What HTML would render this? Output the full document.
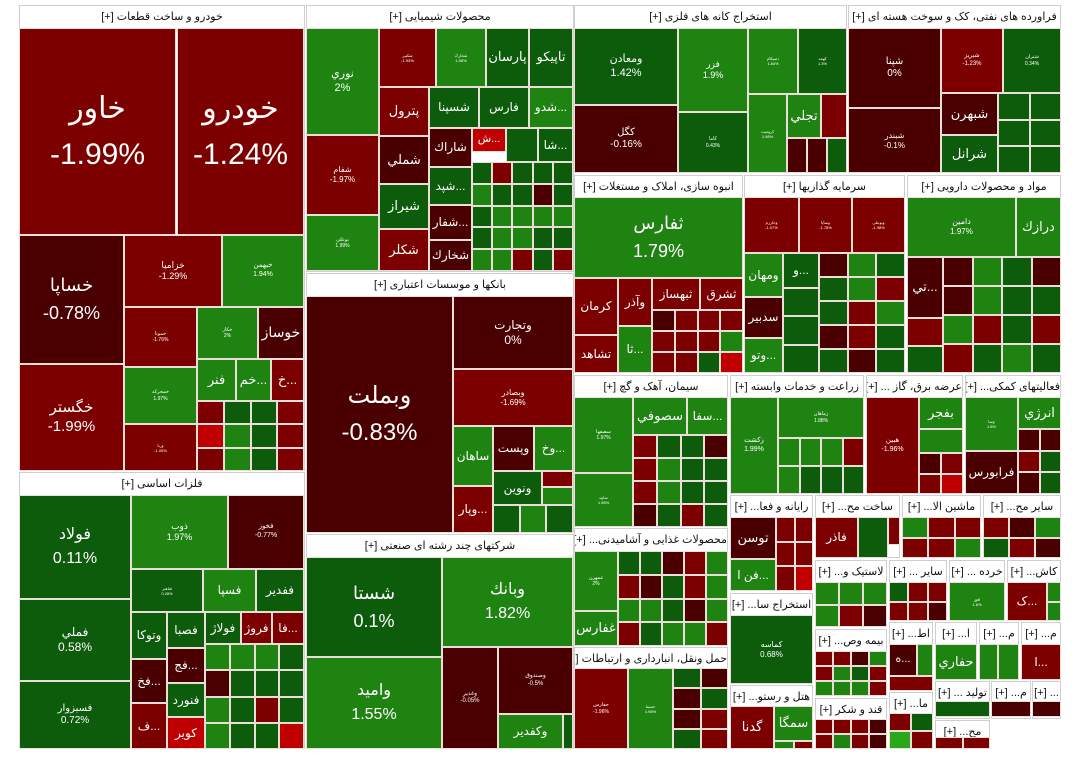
<!DOCTYPE html>
<html><head><meta charset="utf-8">
<style>
html,body{margin:0;padding:0;background:#fff;width:1080px;height:769px;overflow:hidden;}
#map{position:relative;width:1080px;height:769px;font-family:"Liberation Sans","DejaVu Sans",sans-serif;}
.sec{position:absolute;background:#fff;border:1px solid #cfcfcf;box-sizing:border-box;}
.hdr{position:absolute;left:0;right:0;top:0;height:22px;line-height:22px;text-align:center;font-size:11px;color:#111;white-space:nowrap;overflow:hidden;direction:rtl;}
.t{position:absolute;box-sizing:border-box;border:1px solid #eadfd8;color:#fff;display:flex;flex-direction:column;align-items:center;justify-content:center;text-align:center;overflow:hidden;line-height:1.25;white-space:nowrap;}
</style></head><body>
<div id="map"></div>
<script>
const palette={d:"#4a0000",r:"#7d0000",R:"#c00000",n:"#0c5c0c",g:"#1f8312",G:"#2aa81a"};
const sectors=[
[19,5,305,471,"خودرو و ساخت قطعات [+]"],
[306,5,574,272,"محصولات شیمیایی [+]"],
[306,273,574,533,"بانکها و موسسات اعتباری [+]"],
[306,534,574,749,"شرکتهای چند رشته ای صنعتی [+]"],
[19,472,305,749,"فلزات اساسی [+]"],
[574,5,847,173,"استخراج کانه های فلزی [+]"],
[848,5,1061,173,"فراورده های نفتی، کک و سوخت هسته ای [+]"],
[574,175,743,373,"انبوه سازی، املاک و مستغلات [+]"],
[744,175,905,373,"سرمایه گذاریها [+]"],
[907,175,1061,373,"مواد و محصولات دارویی [+]"],
[574,375,728,527,"سیمان، آهک و گچ [+]"],
[730,375,864,494,"زراعت و خدمات وابسته [+]"],
[866,375,963,494,"عرضه برق، گاز ... [+]"],
[965,375,1061,494,"فعالیتهای کمکی... [+]"],
[574,528,728,646,"محصولات غذایی و آشامیدنی... [+]"],
[574,647,728,749,"حمل ونقل، انبارداری و ارتباطات [+]"],
[730,495,813,591,"رایانه و فعا... [+]"],
[730,593,813,684,"استخراج سا... [+]"],
[730,685,813,749,"هتل و رستو... [+]"],
[815,495,900,558,"ساخت مح... [+]"],
[902,495,981,558,"ماشین الا... [+]"],
[983,495,1061,558,"سایر مح... [+]"],
[815,560,887,627,"لاستیک و... [+]"],
[889,560,947,621,"سایر ... [+]"],
[949,560,1005,621,"خرده ... [+]"],
[1007,560,1061,621,"کاش... [+]"],
[815,629,887,696,"بیمه وص... [+]"],
[815,698,887,749,"قند و شکر [+]"],
[889,622,933,691,"اط... [+]"],
[935,622,977,680,"ا... [+]"],
[979,622,1019,680,"م... [+]"],
[1021,622,1061,680,"م... [+]"],
[889,692,933,749,"ما... [+]"],
[935,681,990,719,"تولید ... [+]"],
[935,720,990,749,"مح... [+]"],
[991,681,1031,719,"م... [+]"],
[1032,681,1061,719,"... [+]"]
];
const tiles=[
[19,28,176,235,"خاور",-1.99,30],[177,28,304,235,"خودرو",-1.24,30],
[19,235,124,364,"خساپا",-0.78,18],[19,364,124,471,"خگستر",-1.99,15],
[124,235,222,307,"خزامیا",-1.29,9],[222,235,304,307,"خبهمن",1.94,7],
[124,307,197,367,"خموتا",-1.76,5],[197,307,258,359,"خکار",2,5],[258,307,304,359,"خوساز","d",14],
[197,359,236,401,"فنر","g",13],[236,359,271,401,"...خم","g",13],[271,359,304,401,"...خ","r",13],
[124,367,197,424,"خمحرکه",1.97,5],[124,424,197,471,"ورنا",-1.05,4],
[306,28,379,135,"نوري",2,11],[306,135,379,215,"شفام",-1.97,8],[306,215,379,271,"بوعلي",1.99,5],
[379,28,436,87,"شکبیر",-1.93,4],[436,28,486,87,"شخارک",1.58,4],[486,28,529,87,"پارسان","n",13],[529,28,573,87,"تاپیکو","n",13],
[379,87,429,136,"پترول","r",13],[379,136,429,184,"شملي","d",13],[379,184,429,229,"شیراز","n",13],[379,229,429,271,"شکلر","r",13],
[429,87,479,128,"شسپنا","n",12],[479,87,529,128,"فارس","n",12],[529,87,573,128,"...شدو","g",12],
[429,128,472,167,"شاراك","d",12],[472,128,506,152,"...ش","R",11],[506,128,538,162,"","n",10],[538,128,573,162,"...شا","n",12],
[429,167,472,205,"...شپد","n",12],[429,205,472,240,"...شفار","d",12],[429,240,472,271,"شخارك","d",12],
[306,296,453,533,"وبملت",-0.83,24],[453,296,573,369,"وتجارت",0,12],[453,369,573,426,"وبصادر",-1.69,8],
[453,426,493,486,"ساهان","g",12],[493,426,534,471,"وپست","d",12],[534,426,573,471,"...وخ","g",12],
[453,486,493,533,"...وپار","r",12],[493,471,542,505,"ونوین","n",12],[542,471,573,487,"","r",8],[542,487,573,505,"","g",8],
[306,557,442,657,"شستا",0.1,18],[442,557,573,647,"وبانك",1.82,16],[306,657,442,749,"واميد",1.55,16],
[442,647,498,749,"وغدیر",-0.05,6],[498,647,573,714,"وصندوق",-0.5,6],[498,714,563,749,"وکفدیر","g",12],[563,714,573,749,"","n",8],
[19,495,131,599,"فولاد",0.11,16],[19,599,131,681,"فملي",0.58,12],[19,681,131,749,"فسبزوار",0.72,10],
[131,495,228,569,"ذوب",1.97,9],[228,495,304,569,"فخوز",-0.77,7],
[131,569,203,612,"فباهنر",0.28,4],[203,569,256,612,"فسپا","g",12],[256,569,304,612,"ففدیر","n",12],
[131,612,167,659,"وتوکا","n",12],[167,612,205,648,"فصبا","n",12],[205,612,241,644,"فولاژ","n",12],[241,612,272,644,"فروژ","r",12],[272,612,304,644,"...فا","r",12],
[131,659,167,703,"...فخ","d",12],[167,648,205,683,"...فج","d",12],[167,683,205,717,"فنورد","n",12],[131,703,167,749,"...ف","r",12],[167,717,205,749,"کویر","R",12],
[574,28,678,105,"ومعادن",1.42,11],[574,105,678,173,"کگل",-0.16,10],[678,28,748,112,"فزر",1.9,9],[678,112,748,173,"کاما",0.43,5],
[748,28,798,94,"ذصیکام",1.84,4],[798,28,847,94,"کهمد",1.3,4],[748,94,787,173,"کروميت",1.98,4],[787,94,821,138,"تجلي","g",13],[821,94,847,138,"","r",8],
[848,28,941,108,"شپنا",0,10],[848,108,941,173,"شبندر",-0.1,8],[941,28,1003,93,"شبریز",-1.23,6],[1003,28,1061,93,"شتران",0.34,5],
[941,93,998,135,"شبهرن","d",13],[941,135,998,173,"شرانل","n",13],
[574,197,743,278,"ثفارس",1.79,18],[574,278,618,335,"کرمان","r",12],[574,335,618,373,"تشاهد","r",12],
[618,278,652,326,"وآذر","r",12],[618,326,652,373,"...ثا","g",12],[652,278,700,310,"ثبهساز","r",12],[700,278,743,310,"ثشرق","r",12],
[744,197,799,253,"وخارزم",-1.07,4],[799,197,852,253,"وساپا",-1.78,4],[852,197,905,253,"وبوعلی",-1.98,4],
[744,253,783,297,"ومهان","g",12],[744,297,783,338,"سدبیر","d",12],[744,338,783,373,"...وتو","g",12],[783,253,819,288,"...و","n",12],
[907,197,1016,257,"دامین",1.97,8],[1016,197,1061,257,"درازك","g",13],[907,257,943,318,"...تي","d",13],
[574,397,633,473,"سصفها",1.97,5],[574,473,633,527,"ساوه",1.98,4],[633,397,687,435,"سصوفي","g",13],[687,397,728,435,"...سفا","g",12],
[730,397,778,494,"زکشت",1.99,7],[778,397,864,438,"زماهان",1.88,5],
[866,397,919,494,"هبین",-1.96,7],[919,397,963,429,"بفجر","g",13],[919,429,963,453,"","g",8],
[965,397,1018,451,"وسا",1.8,4],[1018,397,1061,429,"انرژي","g",13],[965,451,1018,494,"فرابورس","d",12],
[574,551,618,611,"غمهرن",2,5],[574,611,618,646,"غفارس","g",13],
[574,668,628,749,"حفارس",-1.96,5],[628,668,673,749,"حسینا",1.98,4],
[730,517,776,559,"توسن","d",13],[730,559,776,591,"...فن ا","g",12],
[730,615,813,684,"کماسه",0.68,8],
[730,706,774,749,"گدنا","r",13],[774,706,813,741,"سمگا","g",13],
[815,517,858,558,"فاذر","r",12],[858,517,888,558,"","n",8],[888,517,900,545,"","r",8],
[949,582,1005,621,"افق",1.6,4],[1007,582,1047,621,"...ک","r",12],
[935,644,977,680,"حفاري","g",13],[979,644,998,680,"","g",8],[998,644,1019,680,"","g",8],[1021,644,1061,680,"...ا","r",12],
[889,644,917,676,"...ه","d",11],[917,644,933,676,"","g",8],[889,676,933,691,"","r",8],
[935,701,990,717,"","n",8],[991,701,1031,717,"","d",8],[1032,701,1061,717,"","d",8]
];
const fillers=[
[197,401,304,471,4,3,"rnnrRgnrrgnr"],
[472,162,573,271,5,5,"nrnnngnndnnggggnggnnggrnr"],
[493,505,573,533,3,1,"ngn"],
[205,644,304,749,4,4,"gggndnnngnrngnnR"],
[787,138,847,173,3,1,"ddn"],
[998,93,1061,173,2,3,"nnnnnn"],
[652,310,743,373,4,3,"drrrrrrgrrnR"],
[783,288,819,373,1,3,"nnn"],
[819,253,905,373,3,5,"dgnngrnrgdrnndn"],
[943,257,1061,373,4,4,"dgnddgnngrnrrngn"],
[907,318,943,373,1,2,"rn"],
[633,435,728,527,4,4,"rnndrgnnrgnndnrn"],
[778,438,864,494,4,2,"gggrgnnn"],
[919,453,963,494,2,2,"drrR"],
[1018,429,1061,494,2,3,"ddrndn"],
[618,551,728,646,5,4,"nndrgrdnrgggndgrnggr"],
[673,668,728,749,2,4,"nddndrnr"],
[776,517,813,591,2,3,"rrrrrR"],
[774,741,813,749,2,1,"gr"],
[902,517,981,558,3,2,"grrrrg"],
[983,517,1061,558,3,2,"rdgnrd"],
[815,582,887,627,3,2,"ggggrd"],
[889,582,947,621,3,2,"nrrrrd"],
[1047,582,1061,621,1,2,"gg"],
[815,651,887,696,4,3,"rrdgrgnrgggr"],
[815,719,887,749,4,2,"rrrdrgrd"],
[889,713,933,749,2,2,"rnGr"],
[935,737,990,749,2,1,"rr"]
];
function colorOf(v){
  if(typeof v==="string") return palette[v];
  if(v>=1.5) return palette.g;
  if(v>=0.05) return palette.n;
  if(v>-0.9) return palette.d;
  return palette.r;
}
const map=document.getElementById('map');
function box(x1,y1,x2,y2,bg){
  const e=document.createElement('div');
  e.className='t';
  e.style.left=x1+'px';e.style.top=y1+'px';e.style.width=(x2-x1)+'px';e.style.height=(y2-y1)+'px';
  e.style.background=bg;
  map.appendChild(e);
  return e;
}
sectors.forEach(s=>{
  const e=document.createElement('div');
  e.className='sec';
  
  
  e.style.left=s[0]+'px';e.style.top=s[1]+'px';e.style.width=(s[2]-s[0])+'px';e.style.height=(s[3]-s[1])+'px';
  const h=document.createElement('div');
  h.className='hdr';
  
  
  h.textContent=s[4];
  e.appendChild(h);
  map.appendChild(e);
});
fillers.forEach(f=>{
  const [x1,y1,x2,y2,c,r,p]=f;
  const w=(x2-x1)/c,h=(y2-y1)/r;
  for(let j=0;j<r;j++)for(let i=0;i<c;i++){
    const e=box(Math.round(x1+i*w),Math.round(y1+j*h),Math.round(x1+(i+1)*w),Math.round(y1+(j+1)*h),palette[p[j*c+i]]||palette.n);
    
    
  }
});
tiles.forEach(t=>{
  const [x1,y1,x2,y2,name,v,fs]=t;
  const e=box(x1,y1,x2,y2,colorOf(v));
  
  
  e.style.fontSize=fs+'px';
  if(name){
    const a=document.createElement('div');a.textContent=name;a.style.direction='rtl';
    
    
    e.appendChild(a);
  }
  if(typeof v==="number"){
    const b=document.createElement('div');b.textContent=v+'%';
    
    
    if(fs>=16) b.style.marginTop=(fs*0.3)+'px';
    e.appendChild(b);
  }
});
</script>
</body></html>
